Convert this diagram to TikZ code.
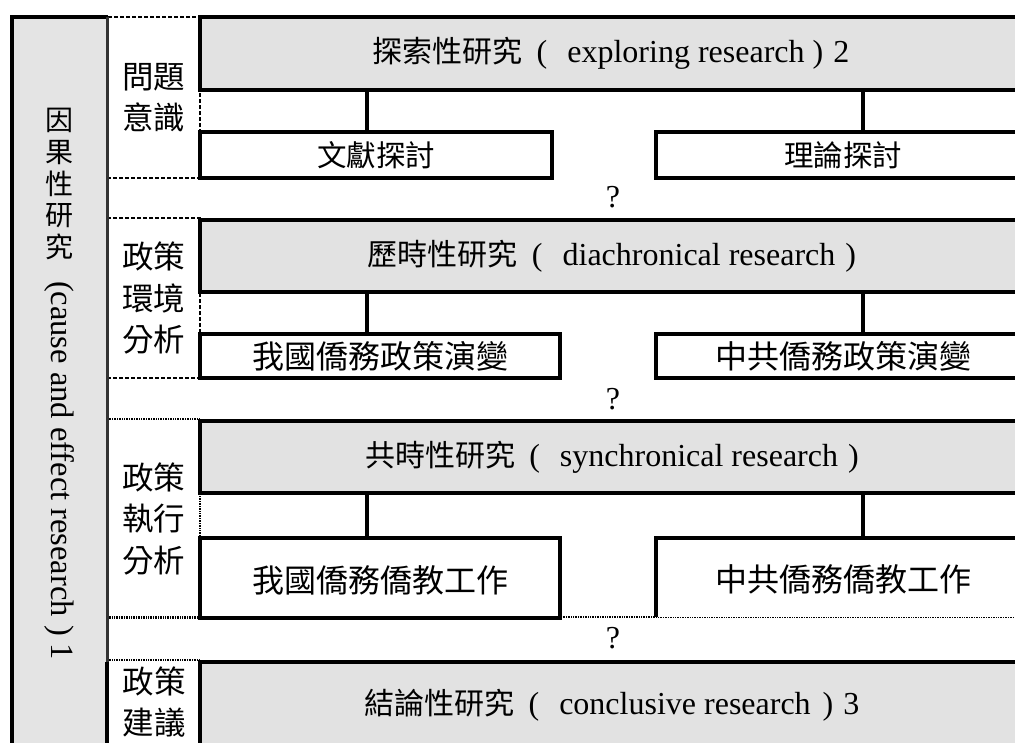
\documentclass[tikz,border=0pt]{standalone}
\usepackage{fontspec}
\setmainfont{Liberation Serif}
\newfontfamily\cjk{Noto Sans CJK TC}
\definecolor{boxgrey}{HTML}{E2E2E2}
\definecolor{leftgrey}{HTML}{E4E4E4}
\newcommand{\ttl}[4]{{\cjk\fontsize{30}{32}\selectfont #1}\hspace{14pt}(\hspace{#3}#2\hspace{#4})\hspace{10pt}}
\begin{document}
\begin{tikzpicture}[x=1pt,y=-1pt,
  every node/.style={inner sep=0pt, outer sep=0pt},
  greybox/.style={fill=boxgrey, draw=black, line width=4pt, anchor=north west},
  subbox/.style={fill=white, draw=black, line width=4pt, anchor=north west},
  labelbox/.style={anchor=north west, align=center, font=\cjk\fontsize{31.5}{41.5}\selectfont},
  labeltxt/.style={align=center, font=\cjk\fontsize{31.5}{41.5}\selectfont},
  dashline/.style={line width=1.5pt, dash pattern=on 4pt off 2pt},
  dotline/.style={line width=1.5pt, dash pattern=on 1pt off 0.7pt},
  thickline/.style={line width=4pt},
  sublabel/.style={font=\cjk\fontsize{32}{34}\selectfont},
  smalllabel/.style={font=\cjk\fontsize{29.5}{31}\selectfont},
  titletxt/.style={font=\fontsize{32}{34}\selectfont},
  qtxt/.style={font=\fontsize{32}{34}\selectfont}]
\useasboundingbox (0,0) rectangle (1015,742);
\clip (0,0) rectangle (1015,742);
% left column
\fill[leftgrey] (11.5,17) rectangle (107.5,760);
\draw[thickline] (11.5,760) -- (11.5,17) -- (107.5,17);
\node[font=\cjk\fontsize{28}{31.8}\selectfont, align=center] (lc) at (59,184) {因\\果\\性\\研\\究};
\node[font=\fontsize{32.5}{34}\selectfont, rotate=-90, anchor=west] (lr) at (59,281) {(cause and effect research ) 1};
% label boxes
\node[labelbox, draw, dashline, minimum width=93pt, minimum height=161pt] (L1) at (107,17) {問題\\意識};
\node[labelbox, draw, dashline, minimum width=93pt, minimum height=160pt] (L2) at (107,218) {政策\\環境\\分析};
\node[labelbox, draw, dotline, minimum width=93pt, minimum height=199pt] (L3) at (107,419) {政策\\執行\\分析};
\draw[dotline] (107,617) -- (1015,617);
\node[minimum width=93pt, minimum height=100pt, anchor=north west] (L4) at (107,660) {};
\node[labeltxt] (L4t) at (154,702) {政策\\建議};
\draw[dotline] (L4.north west) -- (L4.north east);
\draw[thickline] (107,662) -- (107,760);
\draw[line width=2.5pt, black!80] (107.5,17) -- (107.5,662);
\draw[thickline] (200,662) -- (200,760);
% row 1
\node[greybox, minimum width=820pt, minimum height=73pt] (g1) at (200,17) {};
\node[titletxt] (t1) at (611,53) {\ttl{探索性研究}{exploring research}{20pt}{8pt}2};
\node[subbox, minimum width=352pt, minimum height=46pt] (s1a) at (200,132) {};
\node[smalllabel] at (s1a.center) {文獻探討};
\node[subbox, minimum width=374pt, minimum height=46pt] (s1b) at (656,132) {};
\node[smalllabel] at (s1b.center) {理論探討};
\coordinate (kl) at (367,0);
\coordinate (kr) at (863,0);
\draw[thickline] (g1.south -| kl) -- (s1a.north -| kl);
\draw[thickline] (g1.south -| kr) -- (s1b.north -| kr);
\node[qtxt] (q1) at (613,197) {?};
% row 2
\node[greybox, minimum width=820pt, minimum height=72pt] (g2) at (200,220) {};
\node[titletxt] (t2) at (612,256) {\ttl{歷時性研究}{diachronical research}{20pt}{10pt}};
\node[subbox, minimum width=360pt, minimum height=44pt] (s2a) at (200,334) {};
\node[sublabel] at (s2a.center) {我國僑務政策演變};
\node[subbox, minimum width=374pt, minimum height=44pt] (s2b) at (656,334) {};
\node[sublabel] at (s2b.center) {中共僑務政策演變};
\draw[thickline] (g2.south -| kl) -- (s2a.north -| kl);
\draw[thickline] (g2.south -| kr) -- (s2b.north -| kr);
\node[qtxt] (q2) at (613,399) {?};
% row 3
\node[greybox, minimum width=820pt, minimum height=72pt] (g3) at (200,421) {};
\node[titletxt] (t3) at (612,457) {\ttl{共時性研究}{synchronical research}{20pt}{10pt}};
\node[subbox, minimum width=360pt, minimum height=80pt] (s3a) at (200,538) {};
\node[sublabel] at ([yshift=-2pt]s3a.center) {我國僑務僑教工作};
\node[fill=white, minimum width=374pt, minimum height=79pt, anchor=north west] (s3b) at (656,538) {};
\draw[thickline] (s3b.south west) -- (s3b.north west) -- (s3b.north east);
\node[sublabel] at ([yshift=-2pt]s3b.center) {中共僑務僑教工作};
\draw[thickline] (g3.south -| kl) -- (s3a.north -| kl);
\draw[thickline] (g3.south -| kr) -- (s3b.north -| kr);
\node[qtxt] (q3) at (613,638) {?};
% row 4
\node[greybox, minimum width=820pt, minimum height=110pt] (g4) at (200,662) {};
\node[titletxt] (t4) at (612,705) {\ttl{結論性研究}{conclusive research}{20pt}{12pt}3};
\end{tikzpicture}
\end{document}
